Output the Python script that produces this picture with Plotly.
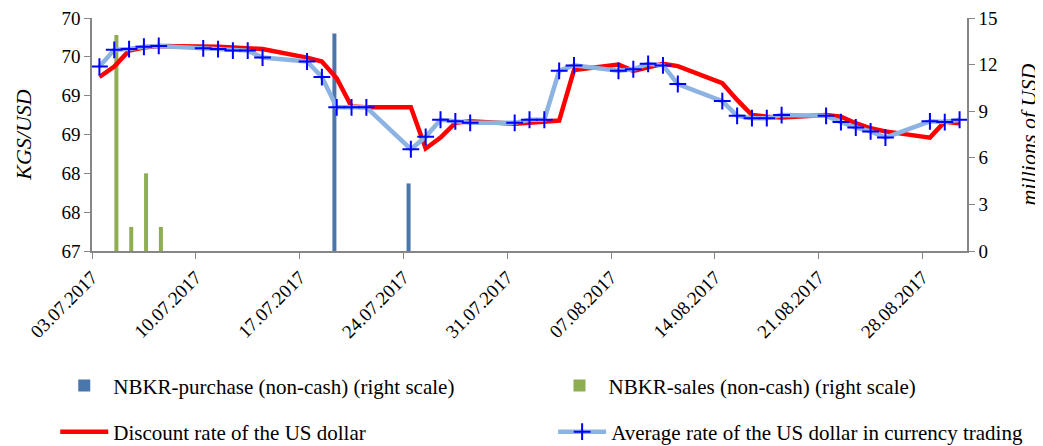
import plotly.graph_objects as go
import pandas as pd

dates = ["2017-07-03","2017-07-04","2017-07-05","2017-07-06","2017-07-07",
         "2017-07-10","2017-07-11","2017-07-12","2017-07-13","2017-07-14",
         "2017-07-17","2017-07-18","2017-07-19","2017-07-20","2017-07-21",
         "2017-07-24","2017-07-25","2017-07-26","2017-07-27","2017-07-28",
         "2017-07-31","2017-08-01","2017-08-02","2017-08-03","2017-08-04",
         "2017-08-07","2017-08-08","2017-08-09","2017-08-10","2017-08-11",
         "2017-08-14","2017-08-15","2017-08-16","2017-08-17","2017-08-18",
         "2017-08-21","2017-08-22","2017-08-23","2017-08-24","2017-08-25",
         "2017-08-28","2017-08-29","2017-08-30"]

average_rate = [69.375, 69.59, 69.60, 69.63, 69.64,
                69.61, 69.60, 69.58, 69.58, 69.49,
                69.44, 69.24, 68.85, 68.85, 68.85,
                68.31, 68.47, 68.69, 68.67, 68.65,
                68.65, 68.69, 68.69, 69.32, 69.39,
                69.32, 69.34, 69.41, 69.39, 69.15,
                68.93, 68.74, 68.71, 68.71, 68.75,
                68.74, 68.66, 68.59, 68.54, 68.46,
                68.67, 68.66, 68.69]

discount_rate = [69.24, 69.375, 69.58, 69.62, 69.64,
                 69.64, 69.63, 69.62, 69.61, 69.60,
                 69.49, 69.44, 69.225, 68.86, 68.85,
                 68.85, 68.32, 68.46, 68.65, 68.67,
                 68.64, 68.65, 68.67, 68.68, 69.33,
                 69.40, 69.32, 69.36, 69.41, 69.38,
                 69.16, 68.945, 68.75, 68.73, 68.72,
                 68.75, 68.73, 68.645, 68.58, 68.54,
                 68.46, 68.665, 68.645]

purchase_dates = ["2017-07-19", "2017-07-24"]
purchase_values = [14.0, 4.35]

sales_dates = ["2017-07-04", "2017-07-05", "2017-07-06", "2017-07-07"]
sales_values = [13.9, 1.55, 5.0, 1.55]

tick_dates = ["2017-07-03","2017-07-10","2017-07-17","2017-07-24","2017-07-31",
              "2017-08-07","2017-08-14","2017-08-21","2017-08-28"]
tick_labels = ["03.07.2017","10.07.2017","17.07.2017","24.07.2017","31.07.2017",
               "07.08.2017","14.08.2017","21.08.2017","28.08.2017"]

left_tickvals = [67, 67.5, 68, 68.5, 69, 69.5, 70]
left_ticktext = ["67", "68", "68", "69", "69", "70", "70"]
right_tickvals = [0, 3, 6, 9, 12, 15]

FONT = "Liberation Serif, Times New Roman, serif"
AXIS_GRAY = "#868686"
DAY_MS = 86400000

# Excel-style slots: tick marks at the left edge of each day's slot
half_day = pd.Timedelta(hours=12)
tickvals = [pd.Timestamp(d) - half_day for d in tick_dates]
x_range = [pd.Timestamp(dates[0]) - half_day, pd.Timestamp(dates[-1]) + half_day]

fig = go.Figure()

fig.add_trace(go.Bar(
    x=purchase_dates, y=purchase_values,
    name="NBKR-purchase (non-cash) (right scale)",
    marker=dict(color="#4A76AA", line=dict(width=0)),
    width=0.27 * DAY_MS, offset=-0.29 * DAY_MS,
    yaxis="y", legend="legend",
))
fig.add_trace(go.Bar(
    x=sales_dates, y=sales_values,
    name="NBKR-sales (non-cash) (right scale)",
    marker=dict(color="#8FAE52", line=dict(width=0)),
    width=0.27 * DAY_MS, offset=0.01 * DAY_MS,
    yaxis="y", legend="legend2",
))
fig.add_trace(go.Scatter(
    x=dates, y=discount_rate, mode="lines",
    name="Discount rate of the US dollar",
    line=dict(color="#FF0000", width=4.5),
    yaxis="y2", legend="legend3",
))
fig.add_trace(go.Scatter(
    x=dates, y=average_rate, mode="lines+markers",
    name="Average rate of the US dollar in currency trading",
    line=dict(color="#8DB3E2", width=4.5),
    marker=dict(symbol="cross-thin", size=12, color="#0000FF",
                line=dict(color="#0000FF", width=2)),
    yaxis="y2", legend="legend4",
))

def legend_box(x, y):
    return dict(
        orientation="h", x=x, xanchor="left", y=y, yanchor="middle",
        font=dict(family=FONT, size=21), bgcolor="rgba(0,0,0,0)",
        itemwidth=48, visible=True,
    )

# page body adds an 8px offset, so the figure is 8px smaller than the window
fig.update_layout(
    width=1035, height=438,
    margin=dict(l=84, r=76, t=10, b=195, autoexpand=False),
    paper_bgcolor="white", plot_bgcolor="white",
    font=dict(family=FONT, size=18, color="black"),
    barmode="overlay", showlegend=True,
    xaxis=dict(
        type="date", range=x_range,
        tickvals=tickvals, ticktext=tick_labels, tickangle=-45,
        showline=True, linecolor=AXIS_GRAY, linewidth=1.5,
        ticks="outside", tickcolor=AXIS_GRAY, ticklen=6,
        showgrid=False, zeroline=False, ticklabeloverflow="allow",
        tickfont=dict(family=FONT, size=19),
    ),
    yaxis=dict(
        side="right", range=[0, 15], tickvals=right_tickvals,
        showline=True, linecolor=AXIS_GRAY, linewidth=1.5,
        ticks="outside", tickcolor=AXIS_GRAY, ticklen=6,
        showgrid=False, zeroline=False, ticklabeloverflow="allow",
        title=dict(text="<i>millions of USD</i>", font=dict(family=FONT, size=22), standoff=24),
        tickfont=dict(family=FONT, size=19),
    ),
    yaxis2=dict(
        side="left", overlaying="y", range=[67, 70],
        tickvals=left_tickvals, ticktext=left_ticktext,
        showline=True, linecolor=AXIS_GRAY, linewidth=1.5,
        ticks="outside", tickcolor=AXIS_GRAY, ticklen=6,
        showgrid=False, zeroline=False, ticklabeloverflow="allow",
        title=dict(text="<i>KGS/USD</i>", font=dict(family=FONT, size=22), standoff=24),
        tickfont=dict(family=FONT, size=19),
    ),
    legend=legend_box(-0.042, -0.579),
    legend2=legend_box(0.524, -0.579),
    legend3=legend_box(-0.042, -0.777),
    legend4=legend_box(0.527, -0.777),
)

fig.write_html("out.html")
